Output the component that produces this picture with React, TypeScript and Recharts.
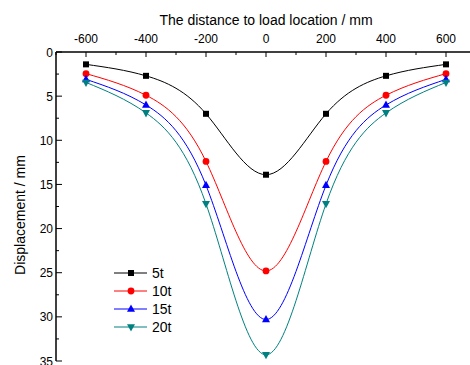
import React from 'react';
import { LineChart, Line, XAxis, YAxis, Customized } from 'recharts';

const xValues = [-600, -400, -200, 0, 200, 400, 600];
const s5t = [1.4, 2.7, 7.0, 13.9, 7.0, 2.7, 1.4];
const s10t = [2.45, 4.9, 12.4, 24.8, 12.4, 4.9, 2.45];
const s15t = [3.1, 6.0, 15.1, 30.3, 15.1, 6.0, 3.1];
const s20t = [3.45, 6.9, 17.2, 34.3, 17.2, 6.9, 3.45];

const xMajor = [-600, -400, -200, 0, 200, 400, 600];
const xMinor = [-700, -500, -300, -100, 100, 300, 500, 700];
const yMajor = [0, 5, 10, 15, 20, 25, 30, 35];
const yMinor = [2.5, 7.5, 12.5, 17.5, 22.5, 27.5, 32.5];

const seriesNames = ['5t', '10t', '15t', '20t'];
const seriesColors = ['#000000', '#ff0000', '#0000ff', '#008080'];

const data = xValues.map((x, i) => ({
  x,
  s5t: s5t[i],
  s10t: s10t[i],
  s15t: s15t[i],
  s20t: s20t[i],
}));

const FONT = 'Liberation Sans, Arial, sans-serif';

function Marker({ kind, cx, cy, color }: any) {
  if (cx == null || cy == null) return <g />;
  if (kind === 0) return <rect x={cx - 3} y={cy - 3} width={6} height={6} fill={color} />;
  if (kind === 1) return <circle cx={cx} cy={cy} r={3.4} fill={color} />;
  if (kind === 2)
    return <polygon points={`${cx},${cy - 4.5} ${cx - 4},${cy + 2.8} ${cx + 4},${cy + 2.8}`} fill={color} />;
  return <polygon points={`${cx},${cy + 4.5} ${cx - 4},${cy - 2.8} ${cx + 4},${cy - 2.8}`} fill={color} />;
}

const XTick = (props: any) => {
  const { x, y, payload } = props;
  const v = payload.value;
  const major = xMajor.includes(v);
  return (
    <g>
      <line x1={x} x2={x} y1={y} y2={y + (major ? 5 : 3)} stroke="#000" strokeWidth={1} />
      {major && (
        <text x={x} y={y - 9} textAnchor="middle" fontSize={12} fontFamily={FONT} fill="#000">
          {v}
        </text>
      )}
    </g>
  );
};

const YTick = (props: any) => {
  const { x, y, payload } = props;
  const v = payload.value;
  const major = yMajor.includes(v);
  return (
    <g>
      <line x1={x} x2={x + (major ? 6 : 3)} y1={y} y2={y} stroke="#000" strokeWidth={1} />
      {major && (
        <text x={x - 3} y={y + 4.5} textAnchor="end" fontSize={12} fontFamily={FONT} fill="#000">
          {v}
        </text>
      )}
    </g>
  );
};

const Overlay = () => (
  <g>
    <text x={266} y={25} textAnchor="middle" fontSize={14} fontFamily={FONT} fill="#000">
      The distance to load location / mm
    </text>
    <text
      x={20}
      y={215}
      textAnchor="middle"
      dominantBaseline="central"
      fontSize={14}
      fontFamily={FONT}
      fill="#000"
      transform="rotate(-90 20 215)"
    >
      Displacement / mm
    </text>
    {seriesNames.map((n, i) => {
      const y = 273 + i * 18;
      return (
        <g key={n}>
          <line x1={114} x2={147} y1={y} y2={y} stroke={seriesColors[i]} strokeWidth={1} />
          <Marker kind={i} cx={131} cy={y} color={seriesColors[i]} />
          <text x={152} y={y + 5} fontSize={14} fontFamily={FONT} fill="#000">
            {n}
          </text>
        </g>
      );
    })}
  </g>
);

export default function App() {
  const keys = ['s5t', 's10t', 's15t', 's20t'];
  return (
    <div style={{ position: 'absolute', left: 0, top: 0, width: 470, height: 365, overflow: 'hidden', background: '#fff' }}>
      <LineChart width={480} height={365} data={data} margin={{ top: 0, right: 4, bottom: 4, left: 0 }}>
        <XAxis
          dataKey="x"
          type="number"
          orientation="top"
          domain={[-700, 700]}
          ticks={[...xMajor, ...xMinor].sort((a, b) => a - b)}
          height={52}
          tickSize={0}
          tickMargin={0}
          tickLine={false}
          axisLine={{ stroke: '#000', strokeWidth: 1.5 }}
          tick={<XTick />}
          interval={0}
        />
        <YAxis
          type="number"
          domain={[0, 35]}
          reversed
          ticks={[...yMajor, ...yMinor].sort((a, b) => a - b)}
          width={56}
          tickSize={0}
          tickMargin={0}
          tickLine={false}
          axisLine={{ stroke: '#000', strokeWidth: 1.5 }}
          tick={<YTick />}
          interval={0}
        />
        {keys.map((k, i) => (
          <Line
            key={k}
            dataKey={k}
            name={seriesNames[i]}
            type="natural"
            stroke={seriesColors[i]}
            strokeWidth={1}
            isAnimationActive={false}
            dot={(p: any) => <Marker key={`${k}-${p.index}`} kind={i} cx={p.cx} cy={p.cy} color={seriesColors[i]} />}
            activeDot={false}
          />
        ))}
        <Customized component={<Overlay />} />
      </LineChart>
    </div>
  );
}
